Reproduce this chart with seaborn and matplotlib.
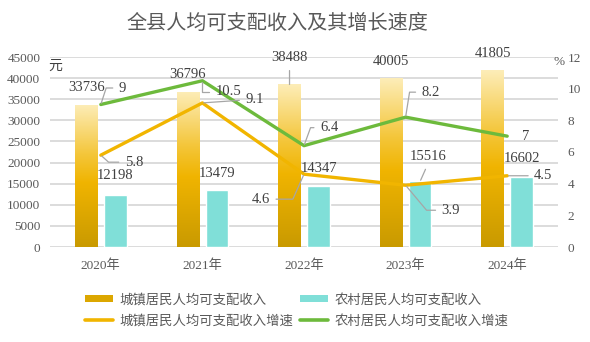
import numpy as np
import pandas as pd
import matplotlib
matplotlib.use("Agg")
import matplotlib.pyplot as plt
from matplotlib.colors import LinearSegmentedColormap
from matplotlib.patches import Patch
from matplotlib.lines import Line2D
import seaborn as sns

# ---------------- data ----------------
years = ["2020年", "2021年", "2022年", "2023年", "2024年"]
urban_income = [33736, 36796, 38488, 40005, 41805]
rural_income = [12198, 13479, 14347, 15516, 16602]
urban_growth = [5.8, 9.1, 4.6, 3.9, 4.5]
rural_growth = [9, 10.5, 6.4, 8.2, 7]
urban_name = "城镇居民人均可支配收入"
rural_name = "农村居民人均可支配收入"
urban_growth_name = "城镇居民人均可支配收入增速"
rural_growth_name = "农村居民人均可支配收入增速"
title = "全县人均可支配收入及其增长速度"

# ---------------- style ----------------
sns.set_style("white")
CJK = ["Noto Sans CJK SC", "DejaVu Sans"]
NUM = ["Liberation Serif", "Noto Sans CJK SC"]
plt.rcParams["font.family"] = CJK

GOLD = "#F1B500"
CYAN = "#80DFD8"
GREEN = "#6DBA3C"
GRAY_TXT = "#595959"
LABEL_TXT = "#404040"
LEADER = "#A6A6A6"

fig = plt.figure(figsize=(5.9, 3.42), dpi=100)
ax = fig.add_axes([50 / 590, 1 - 247 / 342, 508 / 590, 190 / 342])

df = pd.DataFrame({
    "year": years * 2,
    "value": urban_income + rural_income,
    "kind": [urban_name] * len(years) + [rural_name] * len(years),
})
sns.barplot(data=df, x="year", y="value", hue="kind", order=years,
            hue_order=[urban_name, rural_name],
            palette={urban_name: GOLD, rural_name: CYAN},
            width=0.57, gap=0.22, ax=ax, legend=False, saturation=1)

ax.set_xlim(-0.5, len(years) - 0.5)
ax.set_ylim(0, 45000)
ax.set_yticks(np.arange(0, 45001, 5000))
ax.yaxis.grid(True, color="#D9D9D9", lw=1.3)
ax.set_axisbelow(True)
for s in ax.spines.values():
    s.set_visible(False)
ax.set_xlabel("")
ax.set_ylabel("")
ax.tick_params(axis="both", length=0, colors=GRAY_TXT)
ax.tick_params(axis="y", pad=7)
ax.tick_params(axis="x", pad=9)
for t in ax.get_yticklabels():
    t.set_family(NUM)
    t.set_fontsize(9.5)
ax.set_xticks(range(len(years)))
ax.set_xticklabels(years, family=NUM, fontsize=9.5, color=GRAY_TXT)

# gradient on urban bars
cmap = LinearSegmentedColormap.from_list(
    "goldgrad", [(0.0, "#C99A00"), (0.45, "#F0B400"), (0.65, "#F4C63A"), (1.0, "#FDEDB8")])
grad = np.linspace(0, 1, 256).reshape(-1, 1)
urban_bars = ax.containers[0]
rural_bars = ax.containers[1]
for p in urban_bars.patches:
    x0, w, h = p.get_x(), p.get_width(), p.get_height()
    im = ax.imshow(grad, extent=[x0, x0 + w, 0, h], origin="lower", cmap=cmap,
                   aspect="auto", zorder=p.get_zorder(), interpolation="bilinear")
    im.set_clip_path(p)
    p.set_facecolor("none")
    p.set_edgecolor("none")
ax.set_xlim(-0.5, len(years) - 0.5)
ax.set_ylim(0, 45000)

# secondary axis with growth lines
ax2 = ax.twinx()
idx = np.arange(len(years))
sns.lineplot(x=idx, y=urban_growth, ax=ax2, color=GOLD, lw=2.4, legend=False)
sns.lineplot(x=idx, y=rural_growth, ax=ax2, color=GREEN, lw=2.4, legend=False)
ax2.set_ylim(0, 12)
ax2.set_yticks(np.arange(0, 13, 2))
ax2.set_ylabel("")
for s in ax2.spines.values():
    s.set_visible(False)
ax2.tick_params(axis="y", length=0, colors=GRAY_TXT, pad=7)
for t in ax2.get_yticklabels():
    t.set_family(NUM)
    t.set_fontsize(9.5)
ax2.grid(False)

PX = 0.72  # pixel -> point

def fmt(v):
    return f"{v:g}"

# bar labels
bar_offsets_u = [17, 17.5, 26.5, 17, 16.5]
for i, p in enumerate(urban_bars.patches):
    cx = p.get_x() + p.get_width() / 2
    h = p.get_height()
    arrow = None
    if i == 2:
        arrow = dict(arrowstyle="-", color=LEADER, lw=0.9, relpos=(0.5, 0), shrinkA=2, shrinkB=0)
    ax2.annotate(str(urban_income[i]), xy=(cx, h), xycoords=ax.transData,
                 xytext=(0, bar_offsets_u[i] * PX), textcoords="offset points",
                 ha="center", va="center", fontsize=10.5, family=NUM, color=LABEL_TXT,
                 arrowprops=arrow)

bar_offsets_r = [(0, 19.5), (0, 17), (0, 18), (8, 24.5), (0, 18)]
for i, p in enumerate(rural_bars.patches):
    cx = p.get_x() + p.get_width() / 2
    h = p.get_height()
    arrow = None
    if i == 3:
        arrow = dict(arrowstyle="-", color=LEADER, lw=0.9, relpos=(0.5, 0), shrinkA=2, shrinkB=1)
    dx, dy = bar_offsets_r[i]
    ax2.annotate(str(rural_income[i]), xy=(cx, h), xycoords=ax.transData,
                 xytext=(dx * PX, dy * PX), textcoords="offset points",
                 ha="center", va="center", fontsize=10.5, family=NUM, color=LABEL_TXT,
                 arrowprops=arrow)

# growth labels: (dx px, dy px, ha, connectionstyle or None)
rural_lab = [
    (18, 16.5, "left", "angle,angleA=0,angleB=72,rad=0"),
    (13, -11, "left", "angle,angleA=0,angleB=90,rad=0"),
    (16, 18, "left", "angle,angleA=0,angleB=70,rad=0"),
    (16, 25, "left", "angle,angleA=0,angleB=81,rad=0"),
    (15, 0, "left", None),
]
urban_lab = [
    (24, -7, "left", "angle,angleA=0,angleB=-42,rad=0"),
    (43, 3, "left", "arc3,rad=0"),
    (-34, -25, "right", "angle,angleA=0,angleB=66,rad=0"),
    (36, -25, "left", "angle,angleA=0,angleB=-50,rad=0"),
    (27, 0, "left", "arc3,rad=0"),
]

def growth_labels(vals, specs):
    for i, (v, (dx, dy, ha, cs)) in enumerate(zip(vals, specs)):
        arrow = None
        if cs is not None:
            rel = (0, 0.5) if ha == "left" else (1, 0.5)
            arrow = dict(arrowstyle="-", color=LEADER, lw=0.9, connectionstyle=cs,
                         relpos=rel, shrinkA=2, shrinkB=1)
        ax2.annotate(fmt(v), xy=(i, v), xytext=(dx * PX, dy * PX),
                     textcoords="offset points", ha=ha, va="center",
                     fontsize=10.5, family=NUM, color=LABEL_TXT, arrowprops=arrow)

growth_labels(rural_growth, rural_lab)
growth_labels(urban_growth, urban_lab)

# unit labels
ax.text(-0.004, 0.953, "元", transform=ax.transAxes, ha="left", va="center",
        fontsize=10, color=LABEL_TXT, family=CJK)
ax.text(1.0135, 0.975, "%", transform=ax.transAxes, ha="right", va="center",
        fontsize=9.5, color=GRAY_TXT, family=NUM)

# title
fig.text(277 / 590, 1 - 23 / 342, title, ha="center", va="center",
         fontsize=14.5, color=GRAY_TXT, family=CJK)

# legend
handles = [
    Patch(facecolor="#DCA700", edgecolor="none"),
    Line2D([0], [0], color=GOLD, lw=2.6),
    Patch(facecolor=CYAN, edgecolor="none"),
    Line2D([0], [0], color=GREEN, lw=2.6),
]
labels = [urban_name, urban_growth_name, rural_name, rural_growth_name]
leg = fig.legend(handles, labels, ncol=2, loc="center", bbox_to_anchor=(297 / 590, 1 - 310 / 342),
                 frameon=False, fontsize=9.6, handlelength=2.1, handleheight=0.5,
                 columnspacing=0.5, labelspacing=0.55, handletextpad=0.5)
for t in leg.get_texts():
    t.set_color(GRAY_TXT)

fig.savefig("out.png", dpi=100)
